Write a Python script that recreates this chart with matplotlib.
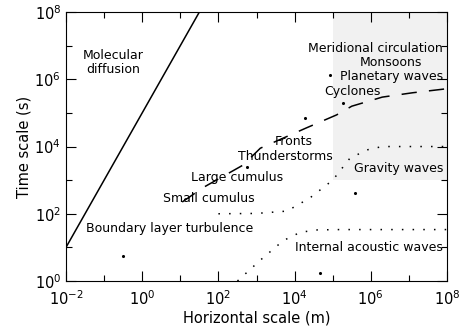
import numpy as np
import matplotlib
matplotlib.use('Agg')
import matplotlib.pyplot as plt
from matplotlib.ticker import LogLocator, LogFormatterMathtext, NullFormatter
from matplotlib.patches import Rectangle

# 分子擴散: t = L^2 / D
diff_L = [1e-2, 10**1.55]
diff_coef = 1e-5

# 虛線 (天氣系統)
dash_x = [10**1.05, 10**1.6, 10**2.65, 10**3.1, 10**4.3, 10**5.1, 10**5.5, 10**6.3, 10**7.1, 1e8]
dash_y = [10**2.35, 10**2.78, 10**3.45, 10**3.95, 10**4.55, 10**4.94, 10**5.2, 10**5.47, 10**5.6, 10**5.72]

# 點線 (重力波)
grav_x = [1e2, 10**3.0, 10**3.8, 10**4.4, 10**5.0, 10**5.45, 10**5.9, 10**6.3, 1e8]
grav_y = [1e2, 10**2.01, 10**2.08, 10**2.47, 10**3.0, 10**3.65, 10**3.9, 10**4.0, 1e4]

# 點線 (內部聲波)
acou_x = [10**2.5, 10**3.1, 10**3.7, 10**4.15, 10**4.6, 10**5.2, 1e8]
acou_y = [1e0, 10**0.62, 10**1.2, 10**1.45, 10**1.52, 10**1.53, 10**1.53]

# 零散的小點
dot_x = [10**-0.5, 10**4.93, 10**4.27, 10**5.27, 10**2.75, 10**5.58, 10**4.67]
dot_y = [10**0.75, 10**6.13, 10**4.85, 10**5.3, 10**3.39, 10**2.62, 10**0.24]

# 標籤 (文字, x, y, 對齊)
labels = [
    ('Molecular\ndiffusion', 10**-0.76, 10**6.5, 'center'),
    ('Meridional circulation', 10**7.9, 10**6.93, 'right'),
    ('Monsoons', 10**6.53, 10**6.49, 'center'),
    ('Planetary waves', 10**7.9, 10**6.07, 'right'),
    ('Cyclones', 10**5.51, 10**5.65, 'center'),
    ('Fronts', 10**3.98, 10**4.14, 'center'),
    ('Thunderstorms', 10**3.75, 10**3.71, 'center'),
    ('Large cumulus', 10**2.49, 10**3.07, 'center'),
    ('Small cumulus', 10**1.75, 10**2.44, 'center'),
    ('Gravity waves', 10**7.9, 10**3.36, 'right'),
    ('Boundary layer turbulence', 10**0.73, 10**1.55, 'center'),
    ('Internal acoustic waves', 10**7.9, 10**1.01, 'right'),
]

fig = plt.figure(figsize=(4.63, 3.26), dpi=100)
ax = fig.add_axes([0.1425, 0.138, 0.823, 0.825])
ax.set_xscale('log')
ax.set_yscale('log')
ax.set_xlim(1e-2, 1e8)
ax.set_ylim(1e0, 1e8)

# 灰色區塊
ax.add_patch(Rectangle((1e5, 1e3), 1e8 - 1e5, 1e8 - 1e3, facecolor='#f1f1f1',
                       edgecolor='none', zorder=0))

L = np.logspace(np.log10(diff_L[0]), np.log10(diff_L[1]), 50)
ax.plot(L, L**2 / diff_coef, color='black', lw=1.1)
ax.plot(dash_x, dash_y, color='black', lw=1.1, dashes=(10, 8))
ax.plot(grav_x, grav_y, color='black', lw=1.1, dashes=(1, 6))
ax.plot(acou_x, acou_y, color='black', lw=1.1, dashes=(1, 6))
ax.scatter(dot_x, dot_y, s=1.5, color='black', zorder=3)

for txt, x, y, ha in labels:
    ax.text(x, y, txt, ha=ha, va='center', fontsize=9, linespacing=1.05)

ax.xaxis.set_major_locator(LogLocator(base=100))
ax.yaxis.set_major_locator(LogLocator(base=100))
ax.xaxis.set_minor_locator(LogLocator(base=10, numticks=20))
ax.yaxis.set_minor_locator(LogLocator(base=10, numticks=20))
ax.xaxis.set_minor_formatter(NullFormatter())
ax.yaxis.set_minor_formatter(NullFormatter())
ax.xaxis.set_major_formatter(LogFormatterMathtext())
ax.yaxis.set_major_formatter(LogFormatterMathtext())
ax.tick_params(which='both', direction='in', top=True, right=True, labelsize=10.5)
ax.tick_params(which='major', length=7, width=0.8)
ax.tick_params(which='minor', length=4, width=0.8)
ax.tick_params(axis='x', pad=6)

ax.set_xlabel('Horizontal scale (m)', fontsize=10.5, labelpad=2)
ax.set_ylabel('Time scale (s)', fontsize=10.5, labelpad=2)

fig.savefig('out.png', dpi=100)
